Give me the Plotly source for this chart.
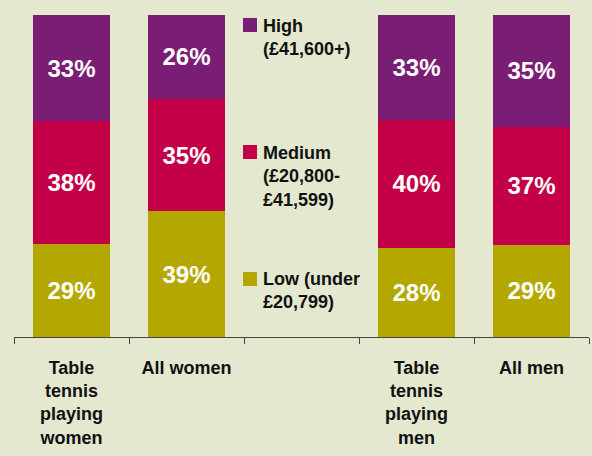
import plotly.graph_objects as go

# ---- data ----
categories = ["Table<br>tennis<br>playing<br>women", "All women", " ",
              "Table<br>tennis<br>playing<br>men", "All men"]
low = [29, 39, None, 28, 29]
medium = [38, 35, None, 40, 37]
high = [33, 26, None, 33, 35]
series_names = ["Low (under<br>£20,799)", "Medium<br>(£20,800-<br>£41,599)", "High<br>(£41,600+)"]
series_values = [low, medium, high]
series_colors = ["#b4a800", "#c30047", "#7a1d74"]

BG = "#e4e8cf"
FONT = "Liberation Sans, Arial, sans-serif"

W, H = 592, 456
ML, MR, MT, MB = 14, 3, 15, 119
PW = W - ML - MR
PH = H - MT - MB
NCAT = len(categories)


def px_to_x(px):
    return (px - ML) / PW * NCAT - 0.5


def py_to_y(py):
    return (MT + PH - py) / PH * 100


fig = go.Figure()
for name, vals, col in zip(series_names, series_values, series_colors):
    fig.add_trace(go.Bar(
        x=categories, y=vals, name=name, marker=dict(color=col, line=dict(width=0)),
        text=vals, texttemplate="%{text}%", textposition="inside",
        insidetextanchor="middle", textangle=0, constraintext="none",
        textfont=dict(color="white", size=24, family=FONT, weight="bold"),
        width=0.67, showlegend=False, hoverinfo="skip",
    ))

# legend drawn as swatches + annotations
legend_items = [  # (series index, swatch top px, text middle px)
    (2, 18, 37.5),
    (1, 145, 176.5),
    (0, 272, 290.5),
]
shapes = []
annotations = []
for idx, top, mid in legend_items:
    shapes.append(dict(type="rect", xref="x", yref="y",
                       x0=px_to_x(243), x1=px_to_x(257),
                       y0=py_to_y(top + 14), y1=py_to_y(top),
                       fillcolor=series_colors[idx], line=dict(width=0)))
    annotations.append(dict(xref="x", yref="y", x=px_to_x(261), y=py_to_y(mid),
                            xanchor="left", yanchor="middle", align="left",
                            text=series_names[idx], showarrow=False,
                            font=dict(size=18, color="#111111", family=FONT, weight="bold")))

fig.update_layout(
    barmode="stack", barnorm="percent",
    width=W, height=H,
    margin=dict(l=ML, r=MR, t=MT, b=MB),
    paper_bgcolor=BG, plot_bgcolor=BG,
    shapes=shapes, annotations=annotations,
    xaxis=dict(type="category", range=[-0.5, NCAT - 0.5], tickson="boundaries",
               ticks="outside", ticklen=6, tickcolor="#444444", tickwidth=1,
               showline=True, linecolor="#444444", linewidth=1,
               showgrid=False, zeroline=False, ticklabelstandoff=14,
               tickfont=dict(size=18, color="#111111", family=FONT, weight="bold")),
    yaxis=dict(visible=False, range=[0, 100], showgrid=False, zeroline=False),
)

fig.write_html(
    "out.html",
    config={"displayModeBar": False, "staticPlot": True},
    post_script="document.body.style.margin='0';document.body.style.overflow='hidden';"
                "document.body.style.background='" + BG + "';",
)
